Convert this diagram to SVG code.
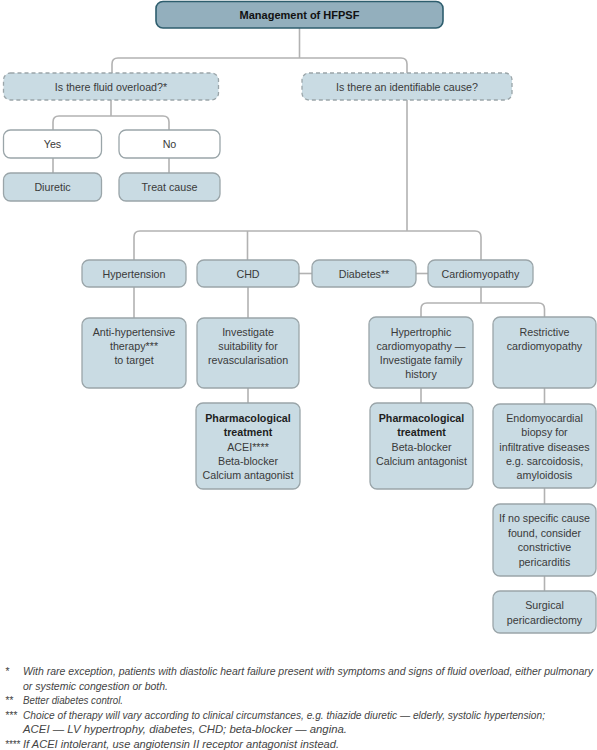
<svg xmlns="http://www.w3.org/2000/svg" width="597" height="750" viewBox="0 0 597 750">
<style>
.n{fill:#c9dbe3;stroke:#9aa5a9;stroke-width:1.3}
.w{fill:#ffffff;stroke:#9aa5a9;stroke-width:1.3}
.d{fill:#c9dbe3;stroke:#9aa5a9;stroke-width:1.3;stroke-dasharray:4 3}
.top{fill:#93afbd;stroke:#2e5e6e;stroke-width:1.6}
.c{fill:none;stroke:#b2b2b2;stroke-width:1.6}
text{font-family:"Liberation Sans",Arial,sans-serif;font-size:10.7px;fill:#3a3a3a;text-anchor:middle}
.b{font-weight:bold;fill:#1e1e1e}
.t{font-weight:bold;font-size:11px;fill:#111}
.f{font-style:italic;font-size:10.5px;fill:#444;text-anchor:start}
</style>
<rect width="597" height="750" fill="#ffffff"/>
<g id="connectors">
<path class="c" d="M299.5,28 V58"/>
<path class="c" d="M112,73 V64 Q112,58 118,58 H401 Q407,58 407,64 V73"/>
<path class="c" d="M111,100 V116"/>
<path class="c" d="M53,130 V122 Q53,116 59,116 H163 Q169,116 169,122 V130"/>
<path class="c" d="M53,158 V173"/>
<path class="c" d="M169,158 V173"/>
<path class="c" d="M407,100 V231"/>
<path class="c" d="M134,260 V237 Q134,231 140,231 H475 Q481,231 481,237 V260"/>
<path class="c" d="M247.5,231 V260"/>
<path class="c" d="M299,273.5 H312"/>
<path class="c" d="M416,273.5 H428"/>
<path class="c" d="M134,287 V318"/>
<path class="c" d="M248,287 V318"/>
<path class="c" d="M248,388 V403"/>
<path class="c" d="M481,287 V303"/>
<path class="c" d="M421,317 V309 Q421,303 427,303 H538.5 Q544.5,303 544.5,309 V317"/>
<path class="c" d="M421,388 V403"/>
<path class="c" d="M544.5,388 V404"/>
<path class="c" d="M544.5,488 V504"/>
<path class="c" d="M544.5,576 V591"/>
</g>
<g id="n-top">
<rect class="top" x="156" y="1.5" width="287" height="26.5" rx="7"/>
<text class="t" x="299.5" y="18.5">Management of HFPSF</text>
</g>
<g id="n-fluid">
<rect class="d" x="3.5" y="73" width="215" height="27" rx="7"/>
<text x="111" y="90.5">Is there fluid overload?*</text>
</g>
<g id="n-cause">
<rect class="d" x="302" y="73" width="210" height="27" rx="7"/>
<text x="407" y="90.5">Is there an identifiable cause?</text>
</g>
<g id="n-yes">
<rect class="w" x="3.5" y="130" width="98" height="28" rx="7"/>
<text x="52.5" y="148">Yes</text>
</g>
<g id="n-no">
<rect class="w" x="119" y="130" width="101" height="28" rx="7"/>
<text x="169.5" y="148">No</text>
</g>
<g id="n-diuretic">
<rect class="n" x="3.5" y="173" width="98" height="28" rx="7"/>
<text x="52.5" y="191">Diuretic</text>
</g>
<g id="n-treat">
<rect class="n" x="119" y="173" width="101" height="28" rx="7"/>
<text x="169.5" y="191">Treat cause</text>
</g>
<g id="n-hypertension">
<rect class="n" x="82" y="260" width="104" height="27" rx="7"/>
<text x="134" y="277.5">Hypertension</text>
</g>
<g id="n-chd">
<rect class="n" x="197" y="260" width="102" height="27" rx="7"/>
<text x="248" y="277.5">CHD</text>
</g>
<g id="n-diabetes">
<rect class="n" x="312" y="260" width="104" height="27" rx="7"/>
<text x="364" y="277.5">Diabetes**</text>
</g>
<g id="n-cardiomyopathy">
<rect class="n" x="428" y="260" width="105" height="27" rx="7"/>
<text x="480.5" y="277.5">Cardiomyopathy</text>
</g>
<g id="n-antihyp">
<rect class="n" x="82" y="318" width="104" height="70" rx="7"/>
<text x="134" y="336">Anti-hypertensive</text>
<text x="134" y="350">therapy***</text>
<text x="134" y="364">to target</text>
</g>
<g id="n-investigate">
<rect class="n" x="197" y="318" width="102" height="70" rx="7"/>
<text x="248" y="336">Investigate</text>
<text x="248" y="350">suitability for</text>
<text x="248" y="364">revascularisation</text>
</g>
<g id="n-hypertrophic">
<rect class="n" x="369" y="317" width="104" height="71" rx="7"/>
<text x="421" y="336">Hypertrophic</text>
<text x="421" y="350">cardiomyopathy —</text>
<text x="421" y="364">Investigate family</text>
<text x="421" y="378">history</text>
</g>
<g id="n-restrictive">
<rect class="n" x="493" y="317" width="103" height="71" rx="7"/>
<text x="544.5" y="336">Restrictive</text>
<text x="544.5" y="350">cardiomyopathy</text>
</g>
<g id="n-pharm1">
<rect class="n" x="196" y="403" width="104" height="86" rx="7"/>
<text class="b" x="248" y="422">Pharmacological</text>
<text class="b" x="248" y="436">treatment</text>
<text x="248" y="450.5">ACEI****</text>
<text x="248" y="465">Beta-blocker</text>
<text x="248" y="479">Calcium antagonist</text>
</g>
<g id="n-pharm2">
<rect class="n" x="370" y="403" width="103" height="86" rx="7"/>
<text class="b" x="421.5" y="422">Pharmacological</text>
<text class="b" x="421.5" y="436">treatment</text>
<text x="421.5" y="450.5">Beta-blocker</text>
<text x="421.5" y="465">Calcium antagonist</text>
</g>
<g id="n-biopsy">
<rect class="n" x="493" y="404" width="103" height="84" rx="7"/>
<text x="544.5" y="422">Endomyocardial</text>
<text x="544.5" y="436">biopsy for</text>
<text x="544.5" y="450.5">infiltrative diseases</text>
<text x="544.5" y="465">e.g. sarcoidosis,</text>
<text x="544.5" y="479">amyloidosis</text>
</g>
<g id="n-nocause">
<rect class="n" x="493" y="504" width="103" height="72" rx="7"/>
<text x="544.5" y="522">If no specific cause</text>
<text x="544.5" y="537">found, consider</text>
<text x="544.5" y="551">constrictive</text>
<text x="544.5" y="566">pericarditis</text>
</g>
<g id="n-surgical">
<rect class="n" x="493" y="591" width="103" height="42" rx="7"/>
<text x="544.5" y="609">Surgical</text>
<text x="544.5" y="624">pericardiectomy</text>
</g>
<g id="footnotes">
<text class="f" x="5" y="675">*</text>
<text class="f" x="23" y="675" textLength="570" lengthAdjust="spacingAndGlyphs">With rare exception, patients with diastolic heart failure present with symptoms and signs of fluid overload, either pulmonary</text>
<text class="f" x="23" y="689.6" textLength="145" lengthAdjust="spacingAndGlyphs">or systemic congestion or both.</text>
<text class="f" x="5" y="704.2" textLength="8" lengthAdjust="spacingAndGlyphs">**</text>
<text class="f" x="23" y="704.2" textLength="100" lengthAdjust="spacingAndGlyphs">Better diabetes control.</text>
<text class="f" x="5" y="718.8" textLength="12" lengthAdjust="spacingAndGlyphs">***</text>
<text class="f" x="23" y="718.8" textLength="522" lengthAdjust="spacingAndGlyphs">Choice of therapy will vary according to clinical circumstances, e.g. thiazide diuretic — elderly, systolic hypertension;</text>
<text class="f" x="23" y="733.4" textLength="324" lengthAdjust="spacingAndGlyphs">ACEI — LV hypertrophy, diabetes, CHD; beta-blocker — angina.</text>
<text class="f" x="5" y="748" textLength="15" lengthAdjust="spacingAndGlyphs">****</text>
<text class="f" x="23" y="748" textLength="316" lengthAdjust="spacingAndGlyphs">If ACEI intolerant, use angiotensin II receptor antagonist instead.</text>
</g>
</svg>
